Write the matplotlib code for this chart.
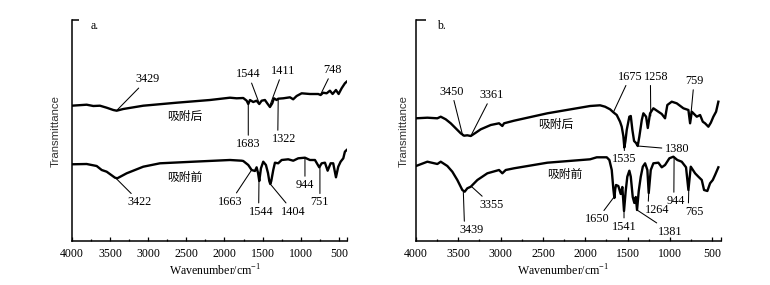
import matplotlib
matplotlib.use('Agg')
import matplotlib.pyplot as plt

plt.rcParams['font.family'] = ['Liberation Serif', 'Noto Sans CJK SC']
plt.rcParams['mathtext.fontset'] = 'custom'
plt.rcParams['mathtext.rm'] = 'Liberation Serif'

# ---- data (wavenumber in cm-1, transmittance in arbitrary units) ----
a_after_wn = [4000, 3804, 3717, 3630, 3542, 3455, 3411, 3325, 3063, 2626, 2190, 1928, 1840, 1754,
              1709, 1688, 1666, 1623, 1579, 1544, 1513, 1470, 1440, 1404, 1374, 1352, 1317, 1296,
              1230, 1142, 1100, 1055, 989, 881, 772, 741, 707, 662, 619, 584, 540, 505, 466, 423, 400]
a_after_t = [135.3, 136.3, 135.0, 135.3, 133.3, 131.0, 130.3, 132.0, 135.3, 138.3, 141.0, 143.3, 142.7, 143.0,
             140.3, 137.0, 141.0, 139.0, 140.3, 137.0, 140.3, 141.0, 137.7, 134.0, 137.7, 142.7, 141.0, 142.3,
             142.7, 143.7, 141.7, 145.0, 147.7, 147.0, 147.0, 146.0, 148.3, 147.7, 150.3, 147.0, 151.0, 147.0,
             152.7, 157.7, 159.3]

a_before_wn = [4000, 3804, 3673, 3607, 3542, 3433, 3403, 3280, 3063, 2844, 2408, 1928, 1775, 1754,
               1688, 1644, 1601, 1579, 1560, 1544, 1522, 1492, 1457, 1430, 1413, 1400, 1387, 1361,
               1339, 1296, 1251, 1165, 1099, 1034, 946, 881, 815, 759, 727, 684, 649, 610, 576, 540,
               510, 479, 444, 423, 400]
a_before_t = [76.7, 77.0, 75.0, 71.0, 69.3, 63.3, 62.7, 67.7, 74.3, 77.7, 79.3, 81.0, 80.3, 80.0,
              76.0, 71.0, 70.0, 73.7, 68.0, 60.0, 72.7, 79.3, 76.0, 68.0, 60.0, 57.0, 60.0, 71.0,
              78.3, 77.7, 81.0, 81.7, 80.3, 82.7, 83.3, 81.0, 81.0, 73.7, 77.7, 78.3, 70.3, 77.7, 77.7,
              63.7, 74.3, 79.3, 82.7, 89.3, 91.0]

b_after_wn = [4000, 3866, 3748, 3708, 3649, 3590, 3531, 3472, 3433, 3394, 3353, 3294, 3235, 3117,
              3019, 2980, 2960, 2842, 2448, 1943, 1825, 1766, 1707, 1668, 1628, 1589, 1569, 1550,
              1538, 1525, 1510, 1479, 1462, 1443, 1423, 1400, 1380, 1361, 1332, 1313, 1281, 1261,
              1234, 1195, 1136, 1096, 1057, 1030, 978, 919, 840, 781, 761, 741, 682, 643, 611, 584,
              545, 516, 486, 454, 427]
b_after_t = [122.7, 123.3, 122.7, 124.3, 121.7, 117.7, 112.7, 107.7, 105.3, 105.7, 105.0, 108.3, 111.7, 116.0,
             117.7, 115.0, 117.7, 120.3, 127.7, 135.0, 135.7, 134.3, 131.7, 128.7, 126.0, 119.3, 114.3, 105.0,
             93.5, 100.0, 111.0, 124.3, 125.0, 111.0, 100.0, 98.0, 95.0, 104.3, 121.0, 127.7, 124.3, 113.0,
             127.7, 132.7, 129.3, 127.0, 122.7, 136.0, 139.3, 137.7, 132.7, 131.0, 117.7, 129.3, 124.3, 126.0,
             119.3, 117.7, 114.3, 118.3, 124.3, 129.3, 139.3]

b_before_wn = [4000, 3866, 3748, 3708, 3630, 3571, 3512, 3453, 3425, 3394, 3353, 3275, 3157, 3019,
               2980, 2940, 2842, 2448, 1943, 1864, 1746, 1715, 1687, 1668, 1656, 1646, 1636, 1609,
               1581, 1562, 1542, 1522, 1503, 1479, 1462, 1439, 1420, 1403, 1388, 1368, 1344, 1320,
               1293, 1266, 1250, 1226, 1195, 1136, 1096, 1057, 1006, 959, 912, 860, 809, 781, 753,
               702, 663, 623, 596, 557, 525, 493, 466, 427]
b_before_t = [75.0, 79.3, 77.0, 79.3, 75.0, 69.3, 61.0, 51.0, 49.3, 52.7, 54.3, 61.0, 67.7, 71.0,
              67.7, 71.0, 72.7, 78.3, 81.7, 83.7, 83.7, 81.0, 71.0, 52.0, 43.0, 52.0, 56.0, 55.0,
              47.0, 54.0, 30.0, 50.0, 64.3, 70.3, 64.3, 44.0, 38.0, 44.0, 31.0, 50.0, 64.3, 74.3,
              77.7, 71.0, 48.0, 71.0, 77.7, 78.3, 73.7, 76.0, 82.7, 84.3, 81.0, 79.3, 73.7, 51.0, 74.3,
              67.7, 64.3, 61.0, 51.0, 50.0, 57.7, 61.0, 66.0, 73.7]

x_ticks = [4000, 3500, 3000, 2500, 2000, 1500, 1000, 500]
x_minor = [3750, 3250, 2750, 2250, 1750, 1250, 750]
curve_names = ['吸附后', '吸附前']

# peak labels: (text, peak wn, peak T, label wn, label T, relpos of leader on the label)
a_notes = [
    ('3429', 3411, 130.5, 3010, 161.7, (0.5, 0.5)),
    ('1544', 1544, 137.5, 1688, 166.7, (0.5, 0.5)),
    ('1411', 1410, 134.5, 1238, 170.0, (0.5, 0.5)),
    ('748', 741, 146.5, 584, 171.0, (0.5, 0.5)),
    ('1683', 1688, 136.5, 1688, 97.0, (0.5, 1)),
    ('1322', 1296, 142.0, 1222, 102.0, (0.25, 1)),
    ('3422', 3420, 62.7, 3106, 38.7, (0.5, 0.5)),
    ('1663', 1644, 71.0, 1919, 39.3, (0.5, 0.5)),
    ('1544', 1548, 60.0, 1513, 29.3, (0.38, 1)),
    ('1404', 1400, 57.0, 1099, 29.3, (0.5, 0.5)),
    ('944', 946, 83.3, 946, 56.0, (0.5, 1)),
    ('751', 750, 73.7, 750, 38.7, (0.5, 1)),
]
b_notes = [
    ('3450', 3448, 105.3, 3578, 149.3, (0.5, 0.5)),
    ('3361', 3353, 105.0, 3105, 146.0, (0.5, 0.5)),
    ('1675', 1668, 128.7, 1471, 164.3, (0.5, 0.5)),
    ('1258', 1226, 125.0, 1163, 164.3, (0.27, 0)),
    ('759', 761, 117.7, 714, 160.0, (0.5, 0.5)),
    ('1535', 1538, 93.5, 1538, 81.7, (0.5, 1)),
    ('1380', 1380, 95.0, 918, 91.7, (0.5, 0.5)),
    ('3355', 3342, 54.3, 3105, 36.0, (0.5, 0.5)),
    ('3439', 3441, 49.3, 3342, 11.0, (0.2, 1)),
    ('1650', 1660, 44.0, 1857, 21.7, (0.5, 0.5)),
    ('1541', 1542, 30.0, 1542, 14.3, (0.5, 1)),
    ('1381', 1388, 31.0, 998, 9.3, (0.5, 0.5)),
    ('1264', 1250, 48.0, 1155, 31.0, (0.15, 1)),
    ('944', 950, 84.0, 927, 40.0, (0.38, 1)),
    ('765', 777, 51.0, 714, 29.3, (0.19, 1)),
]


def draw_panel(ax, spectra, notes, tag, name_pos, top_tick, ylab_x, xlab_x):
    for wn, t in spectra:
        ax.plot(wn, t, color='black', lw=1.7, solid_joinstyle='round')
    for txt, xp, yp, xt, yt, rp in notes:
        ax.annotate(txt, xy=(xp, yp), xytext=(xt, yt), ha='center', va='center', fontsize=8.8,
                    arrowprops=dict(arrowstyle='-', lw=0.75, color='black',
                                    shrinkA=0, shrinkB=0, relpos=rp))
    for name, (x, y) in zip(curve_names, name_pos):
        ax.text(x, y, name, ha='center', va='center', fontsize=8.5, family='Noto Sans CJK SC')
    ax.text(0.068, 0.975, tag, transform=ax.transAxes, ha='left', va='center', fontsize=8.5)

    ax.set_xlim(4000, 400)
    ax.set_ylim(0, 221)
    ax.set_xticks(x_ticks + [400])
    ax.set_xticklabels([str(v) for v in x_ticks] + [''])
    ax.set_xticks(x_minor, minor=True)
    ax.tick_params(axis='x', which='major', direction='in', length=3, width=0.9, pad=5, labelsize=8.6)
    ax.tick_params(axis='x', which='minor', direction='in', length=1.8, width=0.9)
    ax.set_yticks([221])
    ax.set_yticklabels([])
    ax.tick_params(axis='y', direction='in', length=top_tick, width=1.1)
    for side in ['top', 'right']:
        ax.spines[side].set_visible(False)
    for side in ['left', 'bottom']:
        ax.spines[side].set_linewidth(1.1)

    ax.set_xlabel('Wavenumber/cm$^{-1}$', fontsize=8.6)
    ax.xaxis.set_label_coords(xlab_x, -0.10)
    ax.set_ylabel('Transmittance', family='Liberation Sans', fontsize=8.2, color='#333333')
    ax.yaxis.set_label_coords(ylab_x, 0.5)


fig = plt.figure(figsize=(7.7, 2.85), dpi=100)
ax_a = fig.add_axes([0.0931, 0.1544, 0.3571, 0.7754])
ax_b = fig.add_axes([0.5403, 0.1544, 0.3956, 0.7754])

draw_panel(ax_a, [(a_after_wn, a_after_t), (a_before_wn, a_before_t)], a_notes, 'a.',
           [(2517, 124.3), (2517, 63.7)], 5, -0.039, 0.523)
draw_panel(ax_b, [(b_after_wn, b_after_t), (b_before_wn, b_before_t)], b_notes, 'b.',
           [(2345, 116.7), (2239, 67.0)], 7, -0.025, 0.484)

fig.savefig('out.png', dpi=100)
